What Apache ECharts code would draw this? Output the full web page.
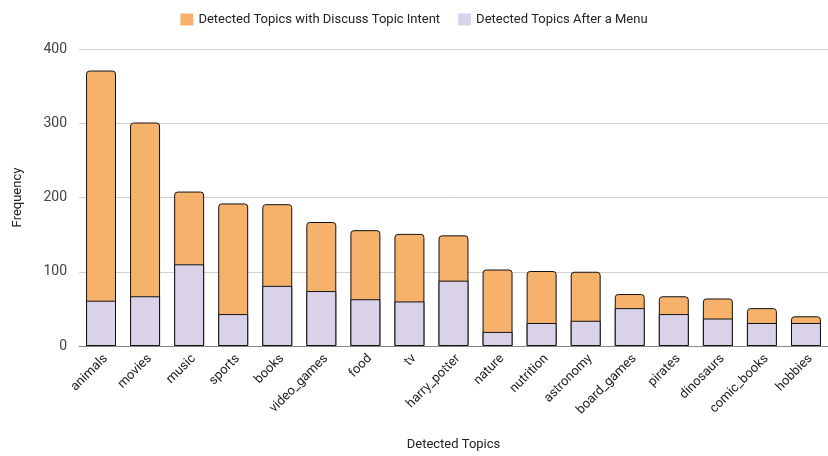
<!DOCTYPE html>
<html>
<head>
<meta charset="utf-8">
<script src="https://cdn.jsdelivr.net/npm/echarts@6/dist/echarts.min.js"></script>
<style>
  html, body { margin: 0; padding: 0; background: #fff; }
  #chart { width: 828px; height: 456px; }
</style>
</head>
<body>
<div id="chart"></div>
<script>
const topics = ["animals", "movies", "music", "sports", "books", "video_games", "food", "tv",
  "harry_potter", "nature", "nutrition", "astronomy", "board_games", "pirates", "dinosaurs",
  "comic_books", "hobbies"];
const discussIntent = [371, 301, 208, 192, 191, 167, 156, 151, 149, 103, 101, 100, 70, 67, 64, 51, 40];
const afterMenu = [61, 67, 110, 43, 81, 74, 63, 60, 88, 19, 31, 34, 51, 43, 37, 31, 31];
const yTicks = { min: 0, max: 400, interval: 100 };

const chart = echarts.init(document.getElementById("chart"));
chart.setOption({
  animation: false,
  textStyle: { fontFamily: "Roboto, Arial, sans-serif" },
  legend: {
    top: 8,
    left: "center",
    itemWidth: 13,
    itemHeight: 12,
    itemGap: 18,
    icon: "rect",
    itemStyle: { borderWidth: 0 },
    textStyle: { fontSize: 13, color: "#222" },
    data: ["Detected Topics with Discuss Topic Intent", "Detected Topics After a Menu"]
  },
  grid: { left: 79, right: 0, top: 49, bottom: 110 },
  xAxis: {
    type: "category",
    data: topics,
    name: "Detected Topics",
    nameLocation: "middle",
    nameGap: 92,
    nameTextStyle: { fontSize: 13, color: "#222" },
    axisTick: { show: false },
    axisLine: { lineStyle: { color: "#888", width: 1 } },
    axisLabel: { rotate: 45, fontSize: 13, color: "#222", margin: 6, interval: 0, verticalAlign: "top" }
  },
  yAxis: {
    type: "value",
    min: yTicks.min,
    max: yTicks.max,
    interval: yTicks.interval,
    name: "Frequency",
    nameLocation: "middle",
    nameGap: 55,
    nameTextStyle: { fontSize: 13, color: "#222" },
    axisLine: { show: false },
    axisTick: { show: false },
    axisLabel: { fontSize: 14, color: "#444", margin: 12 },
    splitLine: { lineStyle: { color: "#d0d0d0", width: 1 } }
  },
  series: [
    {
      name: "Detected Topics with Discuss Topic Intent",
      type: "bar",
      data: discussIntent,
      barWidth: "68%",
      barGap: "-100%",
      itemStyle: { color: "#f6b26b", borderColor: "#111", borderWidth: 1, borderRadius: [3, 3, 0, 0] }
    },
    {
      name: "Detected Topics After a Menu",
      type: "bar",
      data: afterMenu,
      barWidth: "68%",
      itemStyle: { color: "#d9d2e9", borderColor: "#111", borderWidth: 1 }
    }
  ]
});
</script>
</body>
</html>
